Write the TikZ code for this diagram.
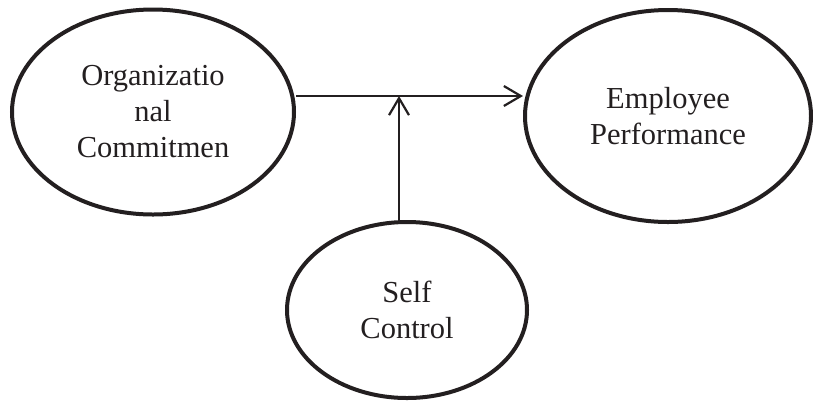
\documentclass[tikz,border=0pt]{standalone}
\usepackage{fontspec}
\setmainfont{Liberation Serif}
\usetikzlibrary{shapes.geometric,arrows.meta}
\definecolor{ink}{HTML}{231F20}
\begin{document}
\begin{tikzpicture}[x=1pt,y=-1pt,
    var/.style={draw=ink, line width=4pt, ellipse, inner sep=0pt, align=center,
      text=ink, font=\fontsize{30.5}{36}\selectfont},
    arr/.style={draw=ink, line width=2.2pt, -{Straight Barb[length=17pt,width=20pt,line width=2.2pt]}}]
      \useasboundingbox (0,0) rectangle (813,400);
      \node[var, minimum width=282pt, minimum height=205pt] (oc) at (153,112) {Organizatio\\nal\\Commitmen};
      \node[var, minimum width=286pt, minimum height=212pt] (ep) at (668,116) {Employee\\Performance};
      \node[var, minimum width=240pt, minimum height=176pt] (sc) at (407,310) {Self\\Control};
      \coordinate (j) at (399,96);
      \draw [arr] (oc.east |- j) -- (ep.west |- j);
      \draw [arr] (sc.north -| j) -- (j);
    \end{tikzpicture}
\end{document}
